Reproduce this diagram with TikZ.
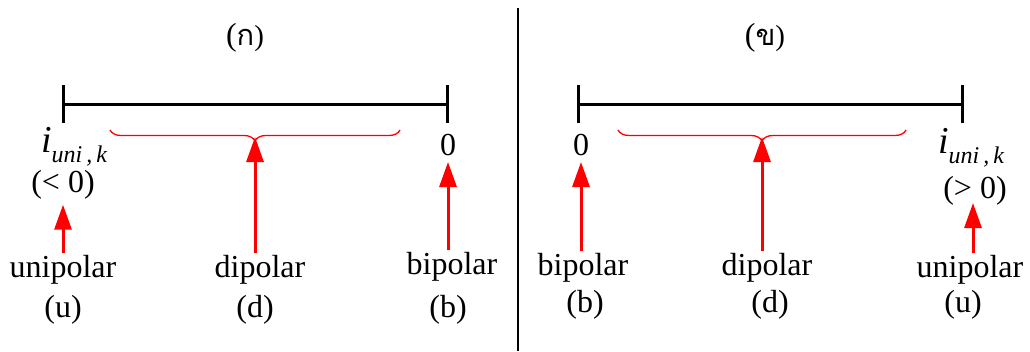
\documentclass[tikz,border=0pt]{standalone}
\usepackage{fontspec}
\setmainfont{Liberation Serif}
\newfontfamily\thaifont[Script=Thai]{Loma}
\usetikzlibrary{arrows.meta,decorations.pathreplacing}

\tikzset{
  lbl/.style={inner sep=0pt,font=\fontsize{32}{34}\selectfont},
  bar/.style={line width=3pt,black},
  pol/.style={line width=3pt,red,-{Triangle[length=25pt,width=17pt]}},
  brc/.style={red,line width=1.3pt,decorate,decoration={brace,amplitude=11pt,mirror}}
}
\newcommand{\iunik}{{\fontsize{38}{40}\selectfont\textit{i}}\raisebox{-10pt}{\fontsize{24}{26}\selectfont\itshape uni\,,\,k}}

\begin{document}
\begin{tikzpicture}[x=1pt,y=-1pt]
\useasboundingbox (0,0) rectangle (1030,351);
\draw[line width=1.5pt] (518,8)--(518,351);
% (ก)
\node[lbl] (tA) at (245,38) {(\thaifont\fontsize{29}{30}\selectfont ก\rmfamily)};
\coordinate (a0) at (63,104);
\coordinate (a1) at (447,104);
\draw[bar] (a0)--(a1);
\draw[bar] (63,85)--(63,123);
\draw[bar] (447,85)--(447,123);
\node[lbl] (iA) at (74,147) {\iunik};
\node[lbl] (ltA) at (63,185) {(< 0)};
\node[lbl] (zA) at (448,145) {0};
\draw[brc] (110,130)--(400,130) coordinate[midway,yshift=-11pt] (kA);
\node[lbl] (uA) at (63,270) {unipolar};
\node[lbl] (dA) at (260,270) {dipolar};
\node[lbl] (bA) at (452,267) {bipolar};
\node[lbl] (uuA) at (63,310) {(u)};
\node[lbl] (ddA) at (255,310) {(d)};
\node[lbl] (bbA) at (448,310) {(b)};
\draw[pol,shorten <=2pt] (uA.north -| ltA) -- ([yshift=-5pt]ltA.south);
\draw[pol,shorten <=2pt] (dA.north -| kA) -- ([yshift=4pt]kA);
\draw[pol,shorten <=2pt] (bA.north -| zA) -- ([yshift=-6pt]zA.south);
% (ข)
\node[lbl] (tB) at (765,38) {(\thaifont\fontsize{29}{30}\selectfont ข\rmfamily)};
\coordinate (b0) at (578,104);
\coordinate (b1) at (962,104);
\draw[bar] (b0)--(b1);
\draw[bar] (578,85)--(578,123);
\draw[bar] (962,85)--(962,123);
\node[lbl] (zB) at (581,145) {0};
\node[lbl] (iB) at (971,148) {\iunik};
\node[lbl] (gtB) at (975,191) {(> 0)};
\draw[brc] (618,130)--(906,130) coordinate[midway,yshift=-11pt] (kB);
\node[lbl] (bB) at (583,268) {bipolar};
\node[lbl] (dB) at (767,268) {dipolar};
\node[lbl] (uB) at (970,270) {unipolar};
\node[lbl] (bbB) at (585,305) {(b)};
\node[lbl] (ddB) at (770,305) {(d)};
\node[lbl] (uuB) at (963,305) {(u)};
\coordinate (uBt) at (973,203);
\draw[pol,shorten <=2pt] (uB.north -| uBt) -- (uBt);
\draw[pol,shorten <=2pt] (bB.north -| zB) -- ([yshift=-6pt]zB.south);
\draw[pol,shorten <=2pt] (dB.north -| kB) -- ([yshift=4pt]kB);
\end{tikzpicture}
\end{document}
